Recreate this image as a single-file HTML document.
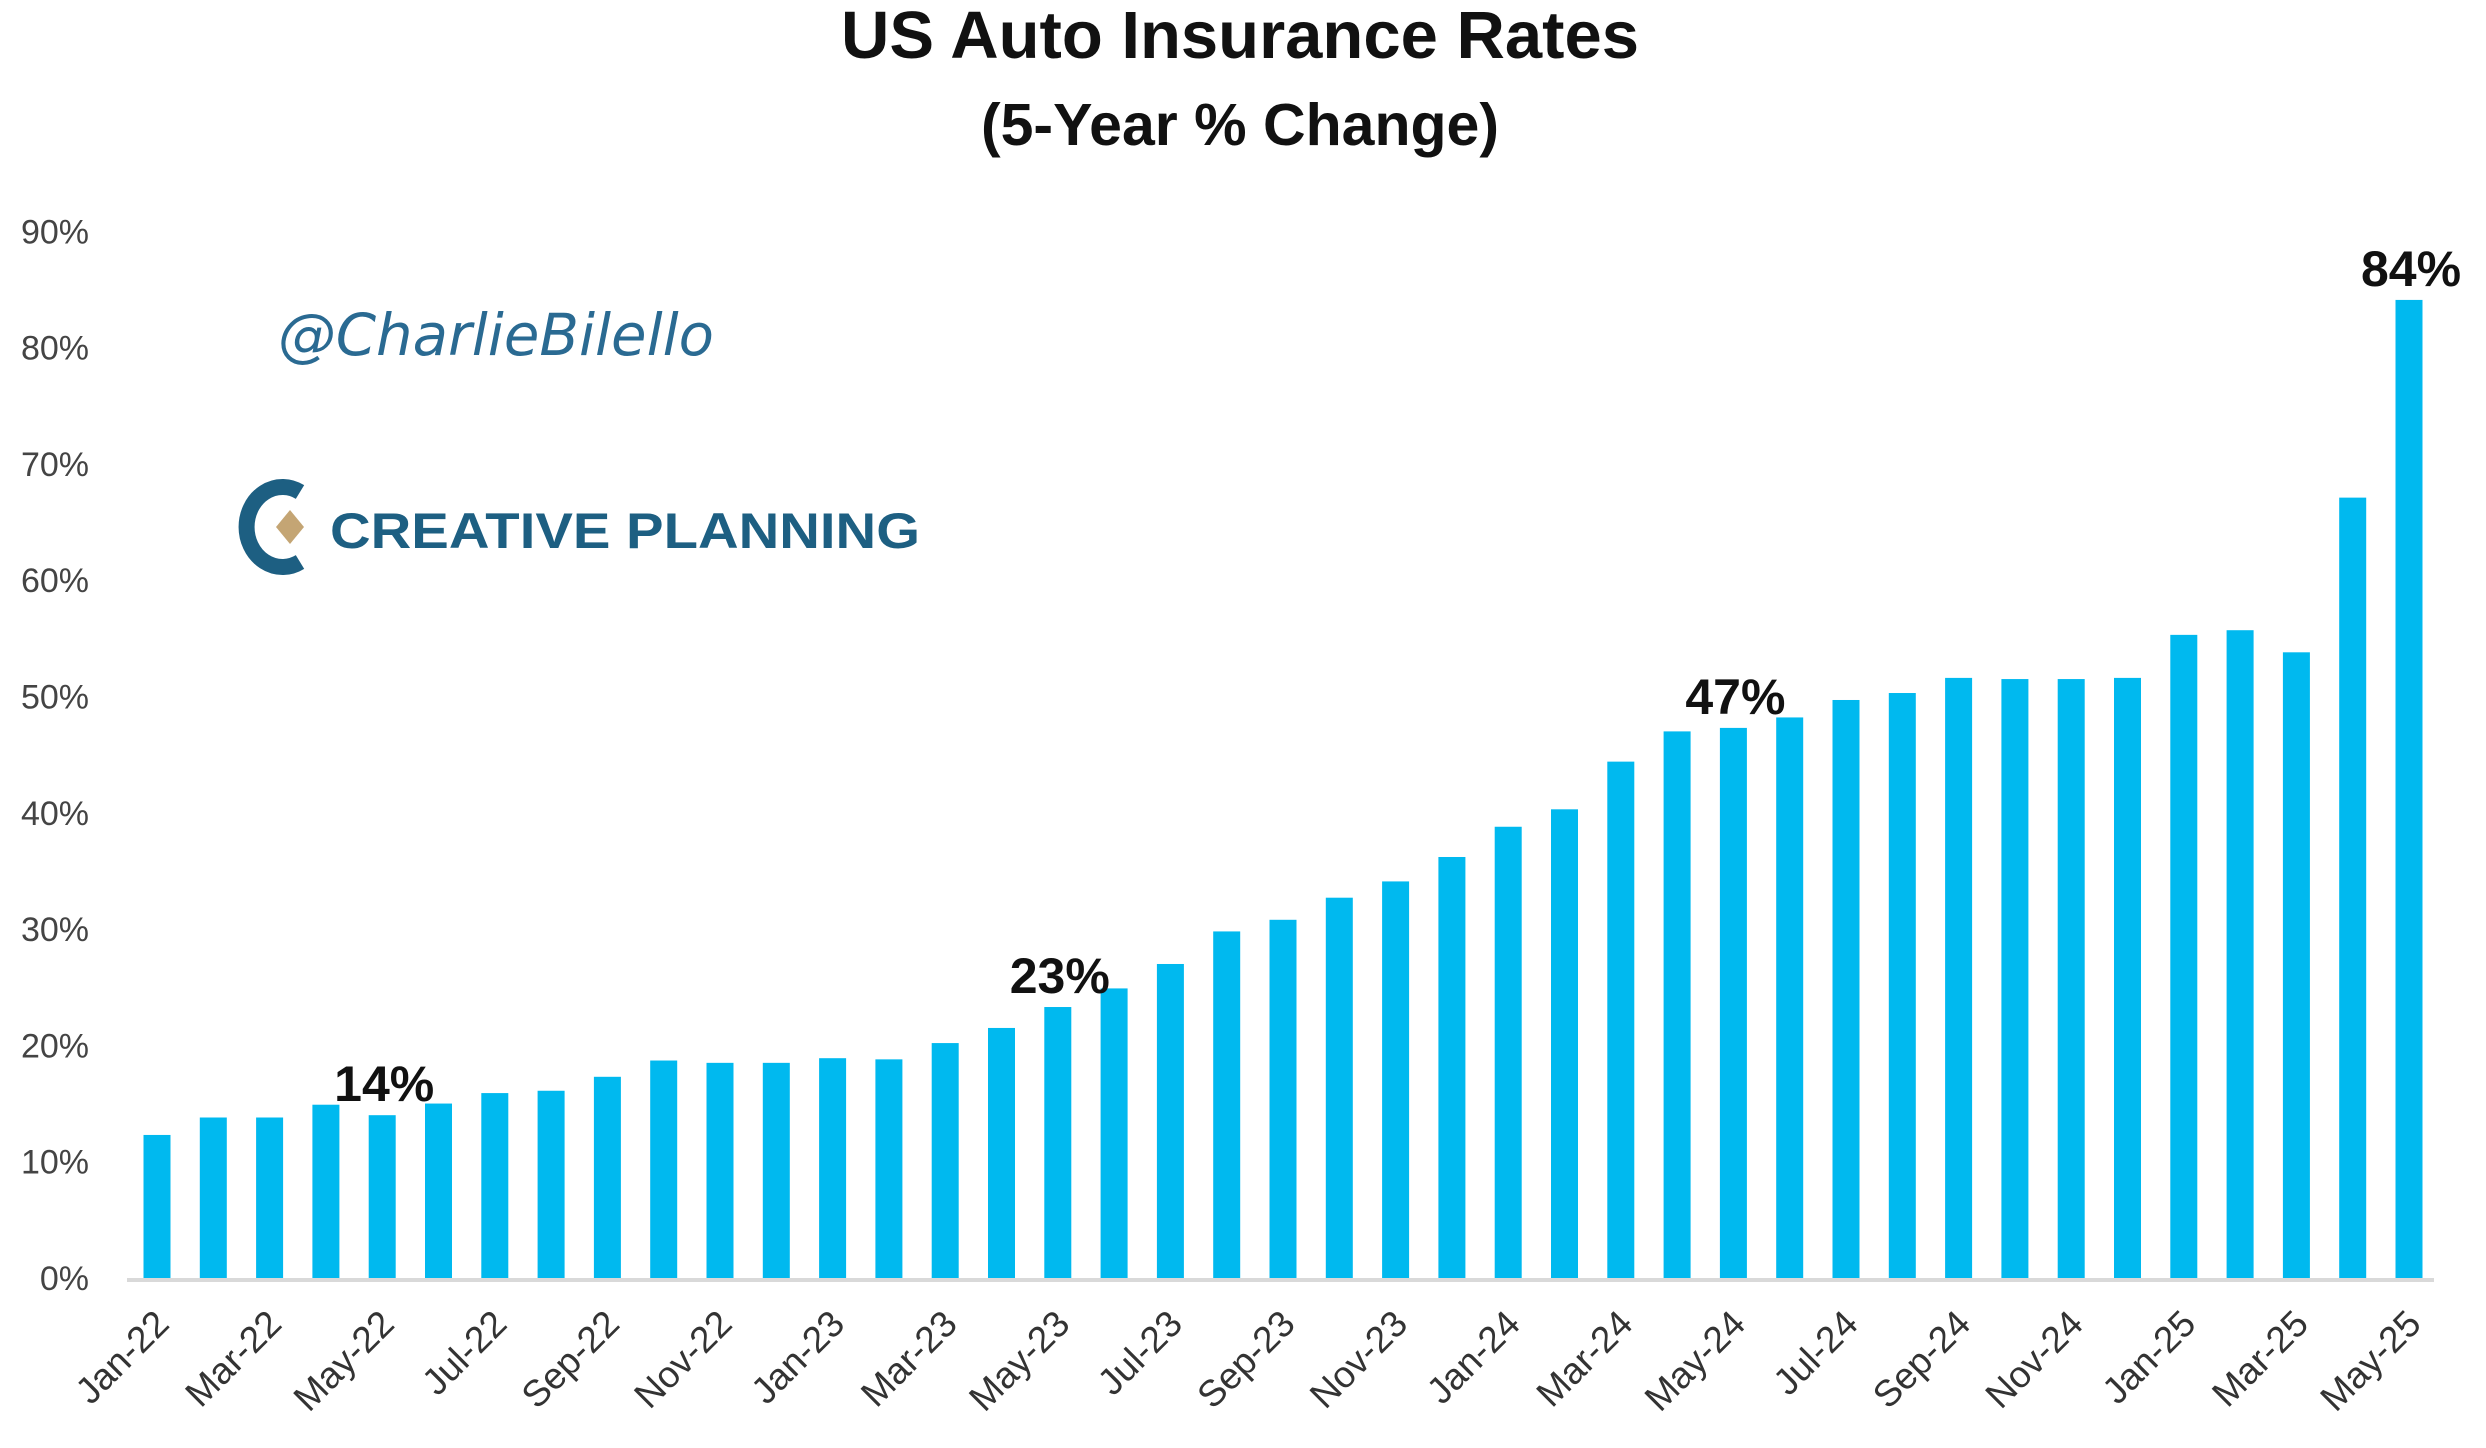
<!DOCTYPE html>
<html><head><meta charset="utf-8"><style>
html,body{margin:0;padding:0;background:#fff;}
svg{display:block;}
</style></head><body>
<svg id="chart" width="2486" height="1448" viewBox="0 0 2486 1448" xmlns="http://www.w3.org/2000/svg" font-family="'Liberation Sans', 'DejaVu Sans', sans-serif">
<text x="1240" y="58" text-anchor="middle" font-size="67" font-weight="bold" fill="#111">US Auto Insurance Rates</text>
<text x="1240" y="145" text-anchor="middle" font-size="59" font-weight="bold" fill="#111">(5-Year % Change)</text>
<text x="278" y="355" font-size="58" font-style="italic" fill="#2a6a92" font-family="'DejaVu Sans', sans-serif" textLength="436" lengthAdjust="spacingAndGlyphs">@CharlieBilello</text>
<g>
<path d="M 300 492 A 36 40 0 1 0 300 562" fill="none" stroke="#1d5f82" stroke-width="16"/>
<polygon points="276,527 290,510 304,527 290,544" fill="#c4a574"/>
<text x="330" y="548" font-size="50" font-weight="bold" fill="#1d5f82" textLength="590" lengthAdjust="spacingAndGlyphs">CREATIVE PLANNING</text>
</g>
<g id="yaxis"></g><g id="bars"></g><g id="xaxis"></g><g id="labels"></g>
</svg>
<script>
const categories = ["Jan-22","Feb-22","Mar-22","Apr-22","May-22","Jun-22","Jul-22","Aug-22","Sep-22","Oct-22","Nov-22","Dec-22","Jan-23","Feb-23","Mar-23","Apr-23","May-23","Jun-23","Jul-23","Aug-23","Sep-23","Oct-23","Nov-23","Dec-23","Jan-24","Feb-24","Mar-24","Apr-24","May-24","Jun-24","Jul-24","Aug-24","Sep-24","Oct-24","Nov-24","Dec-24","Jan-25","Feb-25","Mar-25","Apr-25","May-25"];
const values = [12.3,13.8,13.8,14.9,14.0,15.0,15.9,16.1,17.3,18.7,18.5,18.5,18.9,18.8,20.2,21.5,23.3,24.9,27.0,29.8,30.8,32.7,34.1,36.2,38.8,40.3,44.4,47.0,47.3,48.2,49.7,50.3,51.6,51.5,51.5,51.6,55.3,55.7,53.8,67.1,84.1];
const yTicks = [0,10,20,30,40,50,60,70,80,90];
const yTickLabels = ["0%","10%","20%","30%","40%","50%","60%","70%","80%","90%"];
const annotated = ["May-22","May-23","May-24","May-25"];
const annotationLabels = ["14%","23%","47%","84%"];

const NS="http://www.w3.org/2000/svg";
const baseY=1278, pxPer=116.3, x0=157, step=56.3, bw=27;
function y(v){return baseY - v*pxPer/10;}
function x(i){return x0 + i*step;}
function mk(tag, attrs, parent){const e=document.createElementNS(NS,tag);for(const k in attrs)e.setAttribute(k,attrs[k]);document.getElementById(parent).appendChild(e);return e;}

yTicks.forEach((t,i)=>{
  const e=mk('text',{x:89,y:y(t)+12,'text-anchor':'end','font-size':34,fill:'#444'},'yaxis');
  
  
  e.textContent=yTickLabels[i];
});
const ax=mk('line',{x1:127,x2:2434,y1:baseY+2,y2:baseY+2,stroke:'#d9d9d9','stroke-width':4},'xaxis');



values.forEach((v,i)=>{
  const r=mk('rect',{x:x(i)-bw/2,y:y(v),width:bw,height:baseY-y(v),fill:'#00b9ef'},'bars');
  
  
});
categories.forEach((c,i)=>{
  if(i%2) return;
  const tx=x(i)+14, ty=baseY+48;
  const t=mk('text',{x:tx,y:ty,'text-anchor':'end','font-size':37,fill:'#333',transform:`rotate(-45 ${tx} ${ty})`},'xaxis');
  
  
  t.textContent=c;
});
annotated.forEach((c,k)=>{
  const i=categories.indexOf(c);
  const t=mk('text',{x:x(i)+2,y:y(values[i])-14,'text-anchor':'middle','font-size':50,'font-weight':'bold',fill:'#111'},'labels');
  
  
  t.textContent=annotationLabels[k];
});
</script>
</body></html>
